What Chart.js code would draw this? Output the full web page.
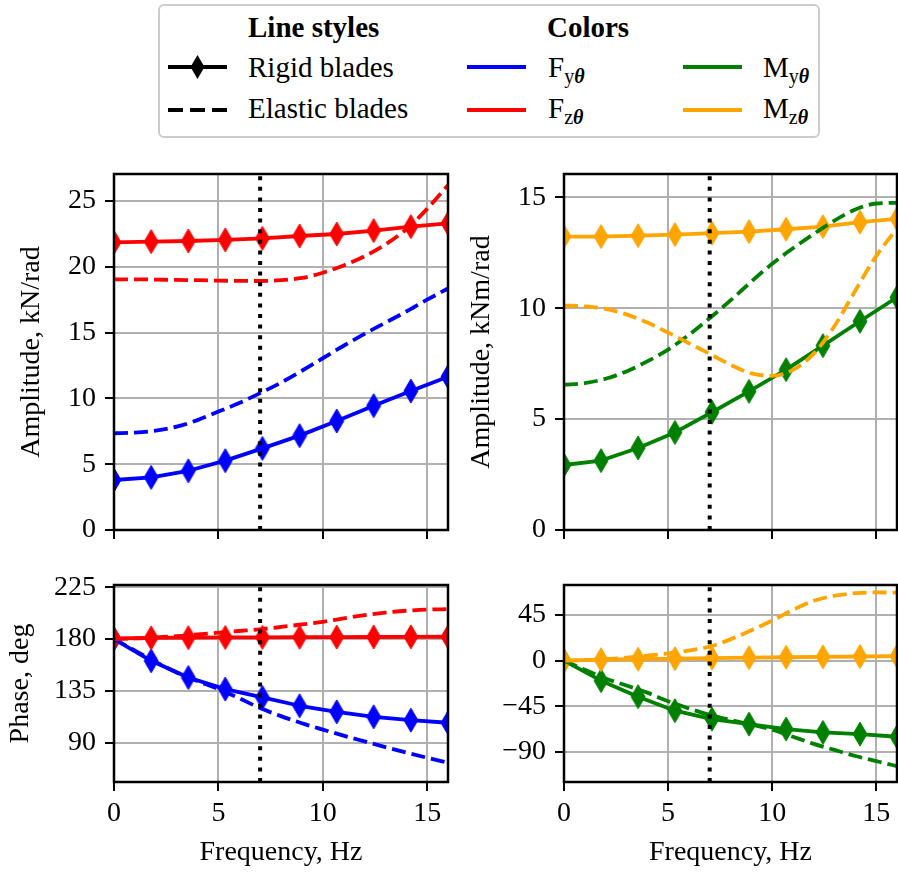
<!DOCTYPE html>
<html><head><meta charset="utf-8">
<script src="https://cdn.jsdelivr.net/npm/chart.js@4.4.1/dist/chart.umd.min.js"></script>
<style>
html,body{margin:0;padding:0;background:#fff;}
body{width:898px;height:872px;position:relative;overflow:hidden;font-family:'Liberation Serif',serif;}
canvas.chart{position:absolute;}
#legendBox{position:absolute;left:158px;top:4px;width:662px;height:134px;border:2px solid #cccccc;border-radius:6px;box-sizing:border-box;background:#fff;}
.lt{position:absolute;font-size:29px;line-height:1;white-space:nowrap;color:#000;transform:translateY(-50%);}
.lt b{font-weight:bold;}
.sub{font-size:20px;position:relative;top:6px;}
.th{font-style:italic;font-weight:bold;}
#handles{position:absolute;left:0;top:0;}
</style>
</head><body>
<div id="legendBox"></div>
<svg id="handles" width="898" height="145">
  <line x1="168" y1="67" x2="227" y2="67" stroke="#000" stroke-width="3.8"/>
  <polygon points="197.5,55 204.5,67 197.5,79 190.5,67" fill="#000"/>
  <line x1="168" y1="110" x2="227" y2="110" stroke="#000" stroke-width="3.8" stroke-dasharray="15,7"/>
  <line x1="467" y1="67" x2="526" y2="67" stroke="#0000ff" stroke-width="3.8"/>
  <line x1="467" y1="110" x2="526" y2="110" stroke="#ff0000" stroke-width="3.8"/>
  <line x1="683" y1="67" x2="742" y2="67" stroke="#008000" stroke-width="3.8"/>
  <line x1="683" y1="110" x2="742" y2="110" stroke="#ffa500" stroke-width="3.8"/>
</svg>
<div class="lt" style="left:248px;top:27px;"><b>Line styles</b></div>
<div class="lt" style="left:547px;top:27px;"><b>Colors</b></div>
<div class="lt" style="left:248px;top:67px;">Rigid blades</div>
<div class="lt" style="left:248px;top:108px;">Elastic blades</div>
<div class="lt" style="left:548px;top:67px;">F<span class="sub">y<span class="th">θ</span></span></div>
<div class="lt" style="left:548px;top:108px;">F<span class="sub">z<span class="th">θ</span></span></div>
<div class="lt" style="left:763px;top:67px;">M<span class="sub">y<span class="th">θ</span></span></div>
<div class="lt" style="left:763px;top:108px;">M<span class="sub">z<span class="th">θ</span></span></div>

<canvas id="cTL" class="chart" width="455" height="395" style="left:0;top:150px;"></canvas>
<canvas id="cTR" class="chart" width="443" height="395" style="left:455px;top:150px;"></canvas>
<canvas id="cBL" class="chart" width="455" height="312" style="left:0;top:560px;"></canvas>
<canvas id="cBR" class="chart" width="443" height="312" style="left:455px;top:560px;"></canvas>

<script>
// ---------------- data ----------------
const freqRigid = [0, 1.78, 3.56, 5.33, 7.11, 8.89, 10.67, 12.44, 14.22, 16];
const freqElastic = [0, 1, 2, 3, 4, 5, 6, 7, 8, 9, 10, 11, 12, 13, 14, 15, 16];
const cutFrequency = 7;
const xTicks = [0, 5, 10, 15];

// Amplitude, kN/rad
const ampFyRigid   = [3.8, 4.0, 4.5, 5.27, 6.2, 7.17, 8.28, 9.45, 10.56, 11.65];
const ampFzRigid   = [21.86, 21.91, 21.96, 22.04, 22.16, 22.34, 22.49, 22.75, 23.05, 23.3];
const ampFyElastic = [7.35, 7.4, 7.55, 7.85, 8.35, 9.0, 9.65, 10.4, 11.2, 12.1, 13.05, 14.0, 14.9, 15.75, 16.6, 17.5, 18.35];
const ampFzElastic = [19.05, 19.05, 19.03, 19.0, 18.98, 18.95, 18.93, 18.92, 18.98, 19.15, 19.55, 20.1, 20.8, 21.7, 22.85, 24.4, 26.2];
// Amplitude, kNm/rad
const ampMyRigid   = [2.93, 3.13, 3.7, 4.4, 5.31, 6.25, 7.23, 8.31, 9.41, 10.49];
const ampMzRigid   = [13.23, 13.23, 13.27, 13.32, 13.38, 13.45, 13.56, 13.68, 13.88, 14.03];
const ampMyElastic = [6.55, 6.62, 6.82, 7.15, 7.6, 8.13, 8.8, 9.55, 10.35, 11.2, 12.0, 12.7, 13.35, 13.95, 14.45, 14.72, 14.75];
const ampMzElastic = [10.12, 10.08, 9.97, 9.72, 9.35, 8.9, 8.42, 7.94, 7.45, 7.06, 6.95, 7.22, 7.95, 9.2, 10.8, 12.35, 13.6];
// Phase, deg (forces)
const phFyRigid   = [180, 161.1, 146.6, 136.5, 129.2, 122, 116.7, 112.4, 109.5, 107.2];
const phFzRigid   = [180.5, 181, 181.2, 181.4, 181.5, 181.6, 181.7, 181.8, 181.9, 182];
const phFyElastic = [180, 170, 160, 151, 143.5, 136.5, 128.5, 120, 113, 106.8, 101.3, 96, 91, 86, 81.3, 76.8, 72.5];
const phFzElastic = [180, 180.5, 181.5, 182.5, 184, 185.5, 187, 188.5, 190.5, 192.7, 195, 198, 200.8, 203, 204.6, 205.6, 206];
// Phase, deg (moments)
const phMyRigid   = [0, -19.7, -35.5, -49.3, -57.6, -62.5, -67.4, -70.7, -72.4, -75];
const phMzRigid   = [0, 1.0, 1.5, 2.0, 2.6, 3.0, 3.4, 3.8, 4.1, 4.5];
const phMyElastic = [0, -9, -17.5, -24.5, -31.5, -40, -47, -53.5, -58.5, -63, -68, -75, -82, -88, -94, -99, -104];
const phMzElastic = [0, 0.5, 1.5, 3, 5, 7.2, 10, 13.8, 21, 30, 39.5, 50, 59, 64, 66.5, 67.3, 67];

// axis ranges and tick steps
const ampForceRange  = [0, 27.05];   const ampForceStep = 5;
const ampMomentRange = [0, 16.05];   const ampMomentStep = 5;
const phForceRange   = [55.7, 227];  const phForceStep = 45;
const phMomentRange  = [-119.6, 74.6]; const phMomentStep = 45;

// ---------------- styling ----------------
const COL = {Fy:'#0000ff', Fz:'#ff0000', My:'#008000', Mz:'#ffa500'};
const LW = 3.8;
const FONT = {family:"'Liberation Serif', serif", size:28};

function diamond(color){
  const c = document.createElement('canvas');
  c.width = 16; c.height = 26;
  const g = c.getContext('2d');
  g.fillStyle = color; g.strokeStyle = color; g.lineWidth = 1;
  g.beginPath(); g.moveTo(8,1); g.lineTo(15,13); g.lineTo(8,25); g.lineTo(1,13); g.closePath();
  g.fill(); g.stroke();
  return c;
}
const pairs = (xs, ys) => xs.map((x, i) => ({x: x, y: ys[i]}));

function rigid(ys, color){
  return {data: pairs(freqRigid, ys), borderColor: color, backgroundColor: color, borderWidth: LW,
    pointStyle: diamond(color), pointRadius: 2, pointHoverRadius: 2, pointBorderWidth: 0, tension: 0, clip: 0,
    borderJoinStyle: 'round'};
}
function elastic(ys, color){
  return {data: pairs(freqElastic, ys), borderColor: color, borderWidth: LW, borderDash: [14, 6],
    pointRadius: 0, cubicInterpolationMode: 'monotone', clip: 0};
}
function cutLine(range){
  return {data: [{x: cutFrequency, y: range[0]}, {x: cutFrequency, y: range[1]}], borderColor: '#000',
    borderWidth: 4, borderDash: [4, 6.6], pointRadius: 0, clip: 0};
}

const framePlugin = {id: 'frame', afterDatasetsDraw(chart){
  const {ctx, chartArea: a} = chart;
  ctx.save(); ctx.strokeStyle = '#000'; ctx.lineWidth = 2.5;
  ctx.strokeRect(a.left, a.top, a.right - a.left, a.bottom - a.top);
  ctx.restore();
}};

const gridOpts = {color: '#b0b0b0', lineWidth: 2, tickColor: '#000', tickWidth: 2, tickLength: 9, drawTicks: true};

function makeChart(id, datasets, range, step, opt){
  new Chart(document.getElementById(id), {
    type: 'line',
    data: {datasets: datasets},
    plugins: [framePlugin],
    options: {
      responsive: false, animation: false, devicePixelRatio: 1,
      layout: {autoPadding: false, padding: {top: opt.padTop, right: opt.padRight, left: 0, bottom: 0}},
      plugins: {legend: {display: false}, tooltip: {enabled: false}},
      scales: {
        x: {type: 'linear', min: 0, max: 16, border: {display: false}, grid: gridOpts,
            afterBuildTicks: s => { s.ticks = xTicks.map(v => ({value: v})); },
            ticks: {display: opt.xLabels, color: '#000', font: FONT, padding: 6, maxRotation: 0, autoSkip: false},
            title: {display: opt.xLabels, text: 'Frequency, Hz', color: '#000', font: FONT, padding: {top: 0, bottom: 3}},
            afterFit: s => { s.height = opt.xH; s.paddingLeft = 0; s.paddingRight = 0; }},
        y: {type: 'linear', min: range[0], max: range[1], border: {display: false}, grid: gridOpts,
            ticks: {stepSize: step, includeBounds: false, color: '#000', font: FONT, padding: 9,
                    callback: v => String(v).replace('-', '\u2212')},
            title: {display: !!opt.yTitle, text: opt.yTitle || '', color: '#000', font: FONT, padding: {top: opt.yTitlePad, bottom: 0}},
            afterFit: s => { s.width = opt.yW; s.paddingTop = 0; s.paddingBottom = 0; }}
      }
    }
  });
}

makeChart('cTL', [rigid(ampFyRigid, COL.Fy), rigid(ampFzRigid, COL.Fz),
                  elastic(ampFyElastic, COL.Fy), elastic(ampFzElastic, COL.Fz), cutLine(ampForceRange)].reverse(),
  ampForceRange, ampForceStep,
  {padTop: 24, padRight: 7, xH: 15, yW: 114, xLabels: false, yTitle: 'Amplitude, kN/rad', yTitlePad: 15});
makeChart('cTR', [rigid(ampMyRigid, COL.My), rigid(ampMzRigid, COL.Mz),
                  elastic(ampMyElastic, COL.My), elastic(ampMzElastic, COL.Mz), cutLine(ampMomentRange)].reverse(),
  ampMomentRange, ampMomentStep,
  {padTop: 24, padRight: 1, xH: 15, yW: 109, xLabels: false, yTitle: 'Amplitude, kNm/rad', yTitlePad: 10});
makeChart('cBL', [rigid(phFyRigid, COL.Fy), rigid(phFzRigid, COL.Fz),
                  elastic(phFyElastic, COL.Fy), elastic(phFzElastic, COL.Fz), cutLine(phForceRange)].reverse(),
  phForceRange, phForceStep,
  {padTop: 25, padRight: 7, xH: 90, yW: 114, xLabels: true, yTitle: 'Phase, deg', yTitlePad: 4});
makeChart('cBR', [rigid(phMyRigid, COL.My), rigid(phMzRigid, COL.Mz),
                  elastic(phMyElastic, COL.My), elastic(phMzElastic, COL.Mz), cutLine(phMomentRange)].reverse(),
  phMomentRange, phMomentStep,
  {padTop: 25, padRight: 1, xH: 90, yW: 109, xLabels: true, yTitle: '', yTitlePad: 0});
</script>
</body></html>
